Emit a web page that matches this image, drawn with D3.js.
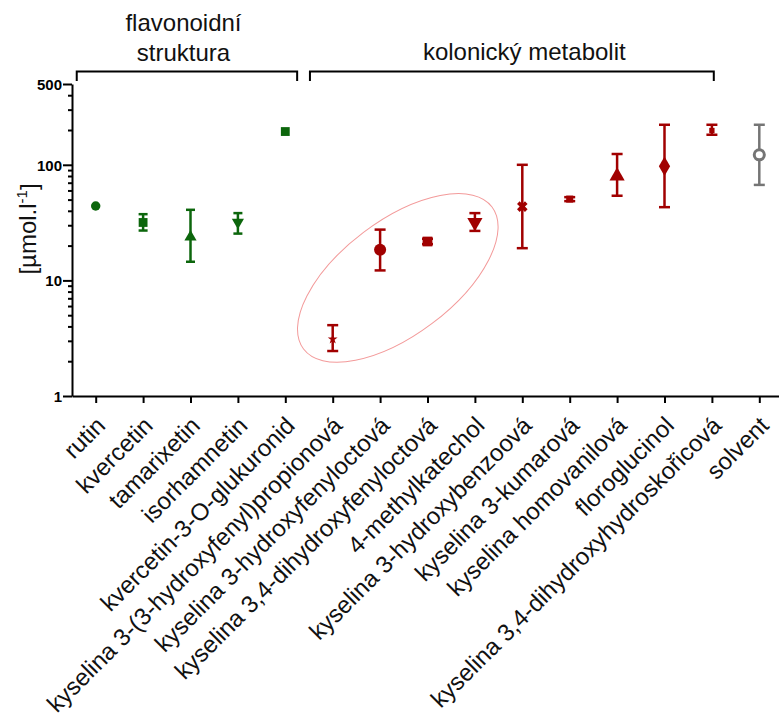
<!DOCTYPE html>
<html>
<head>
<meta charset="utf-8">
<script src="https://cdn.jsdelivr.net/npm/d3@7"></script>
<style>
  body { margin: 0; background: #fff; }
  svg text { font-family: 'Liberation Sans', Arial, sans-serif; }
</style>
</head>
<body>
<div class="root"></div>
<script>
const categories = [
  'rutin', 'kvercetin', 'tamarixetin', 'isorhamnetin', 'kvercetin-3-O-glukuronid',
  'kyselina 3-(3-hydroxyfenyl)propionová', 'kyselina 3-hydroxyfenyloctová',
  'kyselina 3,4-dihydroxyfenyloctová', '4-methylkatechol', 'kyselina 3-hydroxybenzoová',
  'kyselina 3-kumarová', 'kyselina homovanilová', 'floroglucinol',
  'kyselina 3,4-dihydroxyhydroskořicová', 'solvent'
]
const values  = [44, 31.7, 23.7, 31.9, 194, 3.1, 18.4, 21.7, 31.7, 43.5, 50.5, 80, 97, 198, 122]
const errLow  = [null, 27, 14.5, 25.4, null, 2.45, 12.2, 20.6, 26.8, 19, 48.5, 54, 43, 182, 67]
const errHigh = [null, 37.4, 40.8, 38.2, null, 4.1, 27.5, 22.9, 38.2, 100, 52.5, 124, 222, 222, 222]
const groupOf = ['flav', 'flav', 'flav', 'flav', 'flav', 'met', 'met', 'met', 'met', 'met', 'met', 'met', 'met', 'met', 'solv']
const markers = ['circle', 'square', 'triangle', 'triangleDown', 'square', 'star', 'circle', 'square',
                 'triangleDown', 'cross', 'smallSquare', 'triangle', 'diamond', 'tinySquare', 'openCircle']

const groupLabels = [
  { lines: ['flavonoidní', 'struktura'], from: 0, to: 4 },
  { lines: ['kolonický metabolit'], from: 5, to: 13 }
]
const majorTicks = [1, 10, 100, 500]
const minorTicks = [2, 3, 4, 5, 6, 7, 8, 9, 20, 30, 40, 50, 60, 70, 80, 90, 200, 300, 400]

const colors = { flav: '#0c660c', met: '#a10000', solv: '#757575' }

const svgWidth = 779
    , svgHeight = 717
    , fontSize = 24

const svg = d3.select('.root')
              .append('svg')
              .attr('width', svgWidth)
              .attr('height', svgHeight)

const x = d3.scalePoint()
            .domain(categories)
            .range([72, 783])
            .padding(0.5)
const y = d3.scaleLog()
            .domain([1, 500])
            .range([396, 84])

// y axis
const yMajor = d3.axisLeft(y).tickValues(majorTicks).tickSize(9).tickSizeOuter(0).tickFormat(d3.format('d'))
const yMinor = d3.axisLeft(y).tickValues(minorTicks).tickSize(4).tickFormat('')

const gyMin = svg.append('g').attr('transform', 'translate(72, 0)').call(yMinor)
gyMin.select('.domain').remove()
const gy = svg.append('g').attr('transform', 'translate(72, 0)').call(yMajor)
svg.selectAll('g.tick line').attr('stroke', '#000').attr('stroke-width', 2)
gy.select('.domain').attr('stroke', '#000').attr('stroke-width', 2)
gy.attr('font-size', 15).attr('font-family', null)
gy.selectAll('text')
  .style('font-size', '15px')
  .style('font-weight', 'bold')
  .attr('fill', '#000')
  .attr('x', -10)
  .attr('dy', '0.36em')

// x axis
const xAxis = d3.axisBottom(x).tickSize(7).tickSizeOuter(0).tickFormat('')
const gx = svg.append('g').attr('transform', 'translate(0, 396)').call(xAxis)
gx.select('.domain').attr('stroke', '#000').attr('stroke-width', 2)
gx.selectAll('.tick line').attr('stroke', '#000').attr('stroke-width', 2)

svg.append('g')
   .selectAll('text')
   .data(categories)
   .enter()
   .append('text')
   .attr('transform', d => `translate(${x(d) + 11}, 427) rotate(-45)`)
   .attr('text-anchor', 'end')
   .attr('font-size', fontSize)
   .attr('fill', '#111')
   .text(d => d)

// y label
const yLabel = svg.append('text')
                  .attr('transform', 'translate(36, 229) rotate(-90)')
                  .attr('text-anchor', 'middle')
                  .attr('font-size', fontSize)
                  .attr('fill', '#111')
yLabel.append('tspan').text('[µmol.l')
yLabel.append('tspan').attr('font-size', 15).attr('dy', '-0.6em').text('-1')
yLabel.append('tspan').attr('dy', '0.4em').text(']')

// group brackets
const step = x.step()
groupLabels.forEach((g, i) => {
  const x0 = x(categories[g.from]) - (i === 0 ? 0.4 : 0.48) * step
  const x1 = x(categories[g.to]) + (i === 0 ? 0.25 : 0.04) * step
  svg.append('path')
     .attr('d', `M${x0},81V71.5H${x1}V81`)
     .attr('fill', 'none')
     .attr('stroke', '#000')
     .attr('stroke-width', 2)
  const cx = (x(categories[g.from]) + x(categories[g.to])) / 2 + (i === 0 ? -7 : 2)
  const lineY = g.lines.length === 2 ? [31, 61] : [60]
  g.lines.forEach((line, j) => {
    svg.append('text')
       .attr('x', cx)
       .attr('y', lineY[j])
       .attr('text-anchor', 'middle')
       .attr('font-size', fontSize)
       .attr('fill', '#111')
       .text(line)
  })
})

// highlight ellipse
const ellCx = (x(categories[6]) + x(categories[7])) / 2 - 6
const ellCy = y(10.5)
svg.append('ellipse')
   .attr('transform', `translate(${ellCx}, ${ellCy}) rotate(-37)`)
   .attr('rx', 118)
   .attr('ry', 57)
   .attr('fill', 'none')
   .attr('stroke', '#f39a9a')
   .attr('stroke-width', 1)

// error bars
const points = categories.map((c, i) => ({
  c, v: values[i], lo: errLow[i], hi: errHigh[i], col: colors[groupOf[i]], m: markers[i], grp: groupOf[i]
}))

const eb = svg.append('g')
const withErr = points.filter(p => p.lo != null)
eb.selectAll('line.v')
  .data(withErr)
  .enter()
  .append('line')
  .attr('x1', d => x(d.c)).attr('x2', d => x(d.c))
  .attr('y1', d => y(d.lo)).attr('y2', d => y(d.hi))
  .attr('stroke', d => d.col)
  .attr('stroke-width', 2.5)
;['lo', 'hi'].forEach(k => {
  eb.selectAll('line.' + k)
    .data(withErr)
    .enter()
    .append('line')
    .attr('x1', d => x(d.c) - (d.grp === 'flav' ? 4.5 : 5.5))
    .attr('x2', d => x(d.c) + (d.grp === 'flav' ? 4.5 : 5.5))
    .attr('y1', d => y(d[k])).attr('y2', d => y(d[k]))
    .attr('stroke', d => d.col)
    .attr('stroke-width', 2.5)
})

// markers
const symbolFor = (m, grp) => {
  const big = grp !== 'flav'
  switch (m) {
    case 'circle': return d3.symbol(d3.symbolCircle, big ? 115 : 70)()
    case 'square': return d3.symbol(d3.symbolSquare, big ? 95 : 78)()
    case 'triangle': return d3.symbol(d3.symbolTriangle, big ? 100 : 64)()
    case 'triangleDown': return d3.symbol(d3.symbolTriangle, big ? 100 : 64)()
    case 'diamond': return d3.symbol(d3.symbolDiamond, 110)()
    case 'star': return d3.symbol(d3.symbolStar, 30)()
    case 'cross': return d3.symbol(d3.symbolCross, 70)()
    case 'smallSquare': return d3.symbol(d3.symbolSquare, 50)()
    case 'tinySquare': return d3.symbol(d3.symbolSquare, 28)()
    case 'openCircle': return d3.symbol(d3.symbolCircle, 80)()
  }
}
const rotFor = m => m === 'triangleDown' ? 180 : m === 'cross' ? 45 : 0

svg.append('g')
   .selectAll('path')
   .data(points)
   .enter()
   .append('path')
   .attr('transform', d => `translate(${x(d.c)}, ${y(d.v)}) rotate(${rotFor(d.m)})`)
   .attr('d', d => symbolFor(d.m, d.grp))
   .attr('fill', d => d.m === 'openCircle' ? '#fff' : d.col)
   .attr('stroke', d => d.m === 'openCircle' ? d.col : 'none')
   .attr('stroke-width', 3)
</script>
</body>
</html>
